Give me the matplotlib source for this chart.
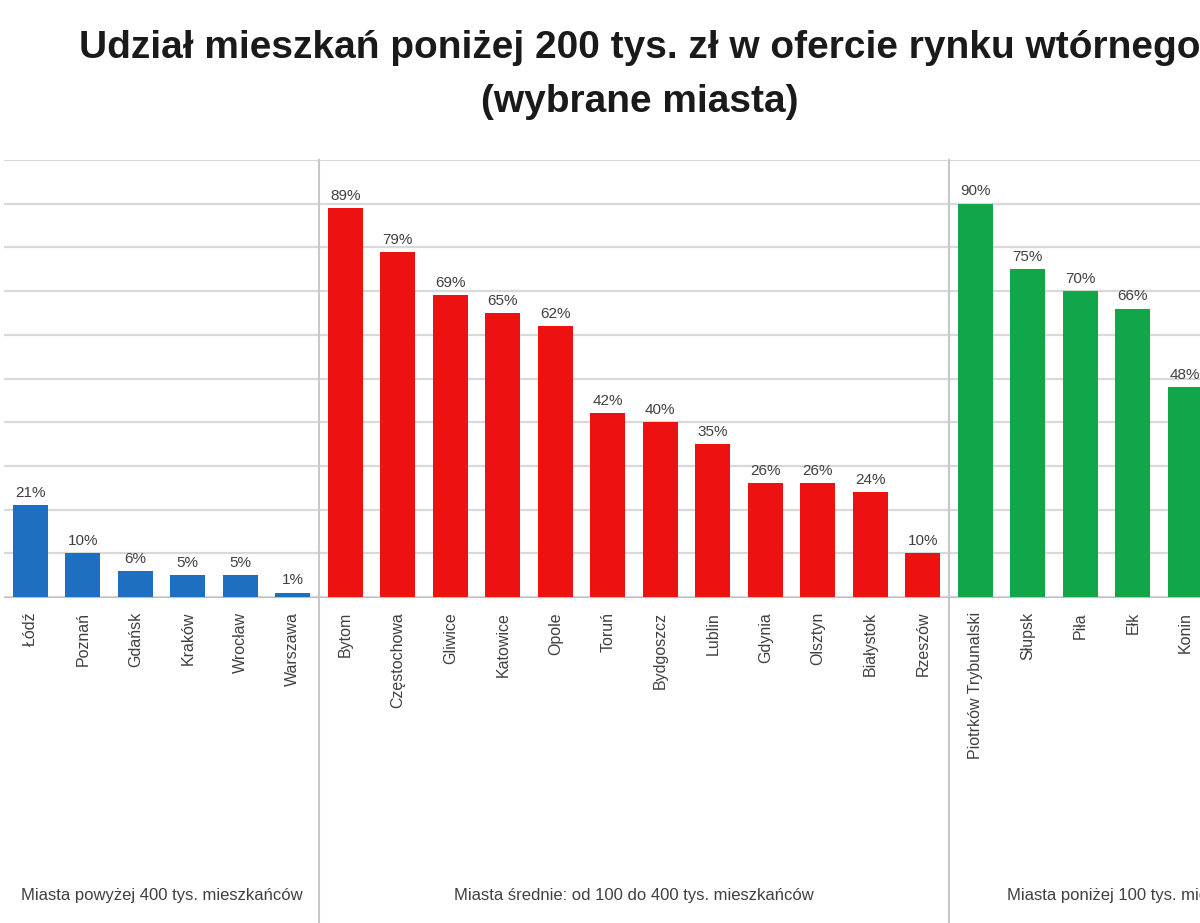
import matplotlib.pyplot as plt
from matplotlib.transforms import blended_transform_factory

# data (shares in %)
big_cities = ["Łódź", "Poznań", "Gdańsk", "Kraków", "Wrocław", "Warszawa"]
big_values = [21, 10, 6, 5, 5, 1]

mid_cities = ["Bytom", "Częstochowa", "Gliwice", "Katowice", "Opole", "Toruń",
              "Bydgoszcz", "Lublin", "Gdynia", "Olsztyn", "Białystok", "Rzeszów"]
mid_values = [89, 79, 69, 65, 62, 42, 40, 35, 26, 26, 24, 10]

small_cities = ["Piotrków Trybunalski", "Słupsk", "Piła", "Ełk", "Konin"]
small_values = [90, 75, 70, 66, 48]

group_names = [
    "Miasta powyżej 400 tys. mieszkańców",
    "Miasta średnie: od 100 do 400 tys. mieszkańców",
    "Miasta poniżej 100 tys. mieszkańców",
]
colors = ["#1f6fc1", "#ee1111", "#12a64a"]

TITLE = "Udział mieszkań poniżej 200 tys. zł w ofercie rynku wtórnego\n(wybrane miasta)"

groups = [
    (big_cities, big_values),
    (mid_cities, mid_values),
    (small_cities, small_values),
]

plt.rcParams["font.family"] = ["Liberation Sans", "DejaVu Sans"]

W, H = 1200, 923
fig = plt.figure(figsize=(W / 100, H / 100), dpi=100)
fig.patch.set_facecolor("white")

n_total = sum(len(c) for c, _ in groups)
step_px = 52.5
left_px, base_px, top_px = 4, 597, 160
ax = fig.add_axes((left_px / W, (H - base_px) / H,
                   step_px * n_total / W, (base_px - top_px) / H))

ax.set_ylim(0, 100)
ax.set_xlim(-0.5, n_total - 0.5)
ax.set_yticks(range(0, 101, 10))
ax.yaxis.grid(True, color="#d9d9d9", linewidth=1.6)
ax.set_axisbelow(True)
ax.tick_params(left=False, labelleft=False, bottom=False, labelbottom=False)
for s in ["top", "left", "right"]:
    ax.spines[s].set_visible(False)
ax.spines["bottom"].set_color("#bfbfbf")

trans = blended_transform_factory(ax.transData, fig.transFigure)
label_y = (H - 612) / H
top_frac = (H - top_px) / H

pos = 0
for gi, (cities, values) in enumerate(groups):
    xs = list(range(pos, pos + len(cities)))
    ax.bar(xs, values, width=0.66, color=colors[gi], zorder=3)
    for x, v, c in zip(xs, values, cities):
        ax.text(x, v + 1.2, f"{v}%", ha="center", va="bottom",
                fontsize=11, color="#404040")
        fig.text(x, label_y, c, transform=trans, rotation=90,
                 ha="center", va="top", fontsize=11.5, color="#404040")
    center = (xs[0] + xs[-1]) / 2
    if gi == 2:
        fig.text(xs[0] + 0.6, 0.03, group_names[gi], transform=trans,
                 ha="left", va="center", fontsize=12, color="#404040")
    else:
        fig.text(center, 0.03, group_names[gi], transform=trans,
                 ha="center", va="center", fontsize=12, color="#404040")
    if gi < len(groups) - 1:
        sep = xs[-1] + 0.5
        ax.plot([sep, sep], [0, top_frac], transform=trans, color="#c8c8c8",
                linewidth=1.5, clip_on=False, zorder=2)
    pos += len(cities)

fig.text(640 / W, (H - 75) / H, TITLE, ha="center", va="center",
         fontsize=28, fontweight="bold", color="#1a1a1a", linespacing=1.65)

fig.savefig("out.png", dpi=100)
